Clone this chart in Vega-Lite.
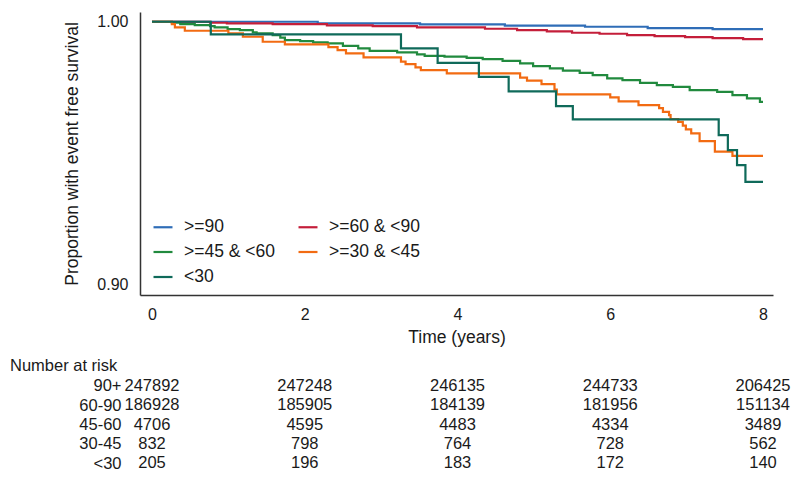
{
  "$schema": "https://vega.github.io/schema/vega-lite/v6.json",
  "padding": {"left": 10, "top": 12, "right": 0, "bottom": 0},
  "background": "white",
  "config": {
    "font": "Liberation Sans",
    "view": {"stroke": null},
    "concat": {"spacing": 11}
  },
  "datasets": {
    "curves": [
      {"group": ">=90", "t": 0, "s": 1.0},
      {"group": ">=90", "t": 2.17, "s": 0.99939},
      {"group": ">=90", "t": 3.51, "s": 0.99901},
      {"group": ">=90", "t": 4.62, "s": 0.99855},
      {"group": ">=90", "t": 5.67, "s": 0.9981},
      {"group": ">=90", "t": 6.49, "s": 0.9976},
      {"group": ">=90", "t": 7.34, "s": 0.99722},
      {"group": ">=90", "t": 8.0, "s": 0.99722},
      {"group": ">=60 & <90", "t": 0, "s": 1.0},
      {"group": ">=60 & <90", "t": 0.76, "s": 0.99962},
      {"group": ">=60 & <90", "t": 0.98, "s": 0.99939},
      {"group": ">=60 & <90", "t": 1.58, "s": 0.99913},
      {"group": ">=60 & <90", "t": 2.29, "s": 0.99863},
      {"group": ">=60 & <90", "t": 2.89, "s": 0.99837},
      {"group": ">=60 & <90", "t": 3.47, "s": 0.99787},
      {"group": ">=60 & <90", "t": 4.36, "s": 0.99734},
      {"group": ">=60 & <90", "t": 4.78, "s": 0.99684},
      {"group": ">=60 & <90", "t": 5.17, "s": 0.99635},
      {"group": ">=60 & <90", "t": 5.5, "s": 0.99582},
      {"group": ">=60 & <90", "t": 5.86, "s": 0.99544},
      {"group": ">=60 & <90", "t": 6.22, "s": 0.99494},
      {"group": ">=60 & <90", "t": 6.58, "s": 0.99456},
      {"group": ">=60 & <90", "t": 6.98, "s": 0.99418},
      {"group": ">=60 & <90", "t": 7.34, "s": 0.9938},
      {"group": ">=60 & <90", "t": 7.74, "s": 0.99342},
      {"group": ">=60 & <90", "t": 8.0, "s": 0.99342},
      {"group": ">=45 & <60", "t": 0, "s": 1.0},
      {"group": ">=45 & <60", "t": 0.26, "s": 0.99962},
      {"group": ">=45 & <60", "t": 0.37, "s": 0.99913},
      {"group": ">=45 & <60", "t": 0.56, "s": 0.99875},
      {"group": ">=45 & <60", "t": 0.76, "s": 0.99837},
      {"group": ">=45 & <60", "t": 0.82, "s": 0.99787},
      {"group": ">=45 & <60", "t": 0.99, "s": 0.99722},
      {"group": ">=45 & <60", "t": 1.15, "s": 0.99684},
      {"group": ">=45 & <60", "t": 1.32, "s": 0.99597},
      {"group": ">=45 & <60", "t": 1.37, "s": 0.99559},
      {"group": ">=45 & <60", "t": 1.58, "s": 0.99494},
      {"group": ">=45 & <60", "t": 1.68, "s": 0.99399},
      {"group": ">=45 & <60", "t": 1.74, "s": 0.99304},
      {"group": ">=45 & <60", "t": 1.94, "s": 0.99266},
      {"group": ">=45 & <60", "t": 2.11, "s": 0.99217},
      {"group": ">=45 & <60", "t": 2.3, "s": 0.99179},
      {"group": ">=45 & <60", "t": 2.5, "s": 0.99087},
      {"group": ">=45 & <60", "t": 2.7, "s": 0.98989},
      {"group": ">=45 & <60", "t": 2.85, "s": 0.98897},
      {"group": ">=45 & <60", "t": 3.21, "s": 0.98837},
      {"group": ">=45 & <60", "t": 3.47, "s": 0.9876},
      {"group": ">=45 & <60", "t": 3.57, "s": 0.98707},
      {"group": ">=45 & <60", "t": 3.83, "s": 0.98677},
      {"group": ">=45 & <60", "t": 4.12, "s": 0.98631},
      {"group": ">=45 & <60", "t": 4.33, "s": 0.98582},
      {"group": ">=45 & <60", "t": 4.59, "s": 0.98517},
      {"group": ">=45 & <60", "t": 4.82, "s": 0.98418},
      {"group": ">=45 & <60", "t": 4.99, "s": 0.98316},
      {"group": ">=45 & <60", "t": 5.21, "s": 0.98228},
      {"group": ">=45 & <60", "t": 5.38, "s": 0.98144},
      {"group": ">=45 & <60", "t": 5.6, "s": 0.98061},
      {"group": ">=45 & <60", "t": 5.77, "s": 0.97973},
      {"group": ">=45 & <60", "t": 5.96, "s": 0.97848},
      {"group": ">=45 & <60", "t": 6.16, "s": 0.97783},
      {"group": ">=45 & <60", "t": 6.39, "s": 0.97681},
      {"group": ">=45 & <60", "t": 6.61, "s": 0.97593},
      {"group": ">=45 & <60", "t": 6.82, "s": 0.97529},
      {"group": ">=45 & <60", "t": 7.04, "s": 0.97403},
      {"group": ">=45 & <60", "t": 7.4, "s": 0.97338},
      {"group": ">=45 & <60", "t": 7.6, "s": 0.97213},
      {"group": ">=45 & <60", "t": 7.79, "s": 0.97087},
      {"group": ">=45 & <60", "t": 7.96, "s": 0.96958},
      {"group": ">=45 & <60", "t": 8.0, "s": 0.96958},
      {"group": ">=30 & <45", "t": 0, "s": 1.0},
      {"group": ">=30 & <45", "t": 0.26, "s": 0.99913},
      {"group": ">=30 & <45", "t": 0.3, "s": 0.99787},
      {"group": ">=30 & <45", "t": 0.43, "s": 0.99658},
      {"group": ">=30 & <45", "t": 1.0, "s": 0.99559},
      {"group": ">=30 & <45", "t": 1.19, "s": 0.9943},
      {"group": ">=30 & <45", "t": 1.45, "s": 0.9924},
      {"group": ">=30 & <45", "t": 1.74, "s": 0.99141},
      {"group": ">=30 & <45", "t": 2.31, "s": 0.99038},
      {"group": ">=30 & <45", "t": 2.43, "s": 0.98924},
      {"group": ">=30 & <45", "t": 2.54, "s": 0.98798},
      {"group": ">=30 & <45", "t": 2.77, "s": 0.98646},
      {"group": ">=30 & <45", "t": 3.26, "s": 0.98487},
      {"group": ">=30 & <45", "t": 3.32, "s": 0.98392},
      {"group": ">=30 & <45", "t": 3.45, "s": 0.98266},
      {"group": ">=30 & <45", "t": 3.52, "s": 0.98163},
      {"group": ">=30 & <45", "t": 3.86, "s": 0.98038},
      {"group": ">=30 & <45", "t": 4.82, "s": 0.97878},
      {"group": ">=30 & <45", "t": 4.91, "s": 0.97764},
      {"group": ">=30 & <45", "t": 5.1, "s": 0.97631},
      {"group": ">=30 & <45", "t": 5.27, "s": 0.97422},
      {"group": ">=30 & <45", "t": 5.3, "s": 0.9724},
      {"group": ">=30 & <45", "t": 6.0, "s": 0.97125},
      {"group": ">=30 & <45", "t": 6.11, "s": 0.96977},
      {"group": ">=30 & <45", "t": 6.37, "s": 0.96833},
      {"group": ">=30 & <45", "t": 6.64, "s": 0.96719},
      {"group": ">=30 & <45", "t": 6.69, "s": 0.96578},
      {"group": ">=30 & <45", "t": 6.77, "s": 0.96453},
      {"group": ">=30 & <45", "t": 6.79, "s": 0.963},
      {"group": ">=30 & <45", "t": 6.89, "s": 0.96198},
      {"group": ">=30 & <45", "t": 6.95, "s": 0.96053},
      {"group": ">=30 & <45", "t": 6.99, "s": 0.95909},
      {"group": ">=30 & <45", "t": 7.06, "s": 0.95757},
      {"group": ">=30 & <45", "t": 7.17, "s": 0.95464},
      {"group": ">=30 & <45", "t": 7.37, "s": 0.95065},
      {"group": ">=30 & <45", "t": 7.6, "s": 0.94905},
      {"group": ">=30 & <45", "t": 8.0, "s": 0.94905},
      {"group": "<30", "t": 0, "s": 1.0},
      {"group": "<30", "t": 0.77, "s": 0.99521},
      {"group": "<30", "t": 3.26, "s": 0.98989},
      {"group": "<30", "t": 3.74, "s": 0.98441},
      {"group": "<30", "t": 4.28, "s": 0.97909},
      {"group": "<30", "t": 4.67, "s": 0.97354},
      {"group": "<30", "t": 5.29, "s": 0.96795},
      {"group": "<30", "t": 5.51, "s": 0.96293},
      {"group": "<30", "t": 7.42, "s": 0.95692},
      {"group": "<30", "t": 7.54, "s": 0.95122},
      {"group": "<30", "t": 7.66, "s": 0.94551},
      {"group": "<30", "t": 7.77, "s": 0.93916},
      {"group": "<30", "t": 8.0, "s": 0.93916}
    ],
    "risk": [
      {"row": "90+", "t": 0, "n": "247892"},
      {"row": "90+", "t": 2, "n": "247248"},
      {"row": "90+", "t": 4, "n": "246135"},
      {"row": "90+", "t": 6, "n": "244733"},
      {"row": "90+", "t": 8, "n": "206425"},
      {"row": "60-90", "t": 0, "n": "186928"},
      {"row": "60-90", "t": 2, "n": "185905"},
      {"row": "60-90", "t": 4, "n": "184139"},
      {"row": "60-90", "t": 6, "n": "181956"},
      {"row": "60-90", "t": 8, "n": "151134"},
      {"row": "45-60", "t": 0, "n": "4706"},
      {"row": "45-60", "t": 2, "n": "4595"},
      {"row": "45-60", "t": 4, "n": "4483"},
      {"row": "45-60", "t": 6, "n": "4334"},
      {"row": "45-60", "t": 8, "n": "3489"},
      {"row": "30-45", "t": 0, "n": "832"},
      {"row": "30-45", "t": 2, "n": "798"},
      {"row": "30-45", "t": 4, "n": "764"},
      {"row": "30-45", "t": 6, "n": "728"},
      {"row": "30-45", "t": 8, "n": "562"},
      {"row": "<30", "t": 0, "n": "205"},
      {"row": "<30", "t": 2, "n": "196"},
      {"row": "<30", "t": 4, "n": "183"},
      {"row": "<30", "t": 6, "n": "172"},
      {"row": "<30", "t": 8, "n": "140"}
    ]
  },
  "vconcat": [
    {
      "width": 633,
      "height": 283,
      "data": {"name": "curves"},
      "mark": {"type": "line", "interpolate": "step-after", "strokeWidth": 2.2, "clip": true},
      "encoding": {
        "x": {
          "field": "t", "type": "quantitative",
          "scale": {"domain": [-0.157, 8.131], "nice": false, "zero": false},
          "axis": {
            "values": [0, 2, 4, 6, 8], "title": "Time (years)", "grid": false, "ticks": false,
            "domainColor": "#333333", "domainWidth": 1.5,
            "labelFontSize": 16, "labelColor": "#1a1a1a", "labelPadding": 11, "labelFlush": false,
            "titleFontSize": 17.5, "titleFontWeight": "normal", "titleColor": "#1a1a1a", "titlePadding": 6
          }
        },
        "y": {
          "field": "s", "type": "quantitative",
          "scale": {"domain": [0.8962, 1.0037], "nice": false, "zero": false},
          "axis": {
            "values": [0.9, 1.0], "format": ".2f", "title": "Proportion with event free survival",
            "grid": false, "ticks": false, "domainColor": "#333333", "domainWidth": 1.5,
            "labelFontSize": 16, "labelColor": "#1a1a1a", "labelPadding": 12, "labelFlush": false,
            "titleFontSize": 17.5, "titleFontWeight": "normal", "titleColor": "#1a1a1a", "titlePadding": 15
          }
        },
        "color": {
          "field": "group", "type": "nominal",
          "scale": {
            "domain": [">=90", ">=60 & <90", ">=45 & <60", ">=30 & <45", "<30"],
            "range": ["#2f6db7", "#c41e3a", "#218a3e", "#f26b12", "#0f6a5a"]
          },
          "legend": {
            "title": null, "orient": "none", "legendX": 12, "legendY": 204, "columns": 2,
            "direction": "horizontal",
            "symbolType": "stroke", "symbolSize": 360, "symbolStrokeWidth": 2.2,
            "labelFontSize": 17.5, "labelColor": "#1a1a1a", "labelOffset": 10,
            "columnPadding": 19, "rowPadding": 5
          }
        }
      }
    },
    {
      "width": 633,
      "height": 97,
      "data": {"name": "risk"},
      "title": {
        "text": "Number at risk", "anchor": "start", "frame": "group", "dx": -130,
        "fontSize": 16.5, "fontWeight": "normal", "color": "#1a1a1a", "offset": 2
      },
      "mark": {"type": "text", "fontSize": 16.5, "color": "#1a1a1a", "align": "center", "baseline": "middle"},
      "encoding": {
        "x": {
          "field": "t", "type": "quantitative",
          "scale": {"domain": [-0.157, 8.131], "nice": false, "zero": false},
          "axis": null
        },
        "y": {
          "field": "row", "type": "ordinal",
          "scale": {"domain": ["90+", "60-90", "45-60", "30-45", "<30"], "paddingInner": 0, "paddingOuter": 0},
          "axis": {
            "title": null, "domain": false, "ticks": false, "labelPadding": 19,
            "labelFontSize": 16.5, "labelColor": "#1a1a1a"
          }
        },
        "text": {"field": "n", "type": "nominal"}
      }
    }
  ]
}
